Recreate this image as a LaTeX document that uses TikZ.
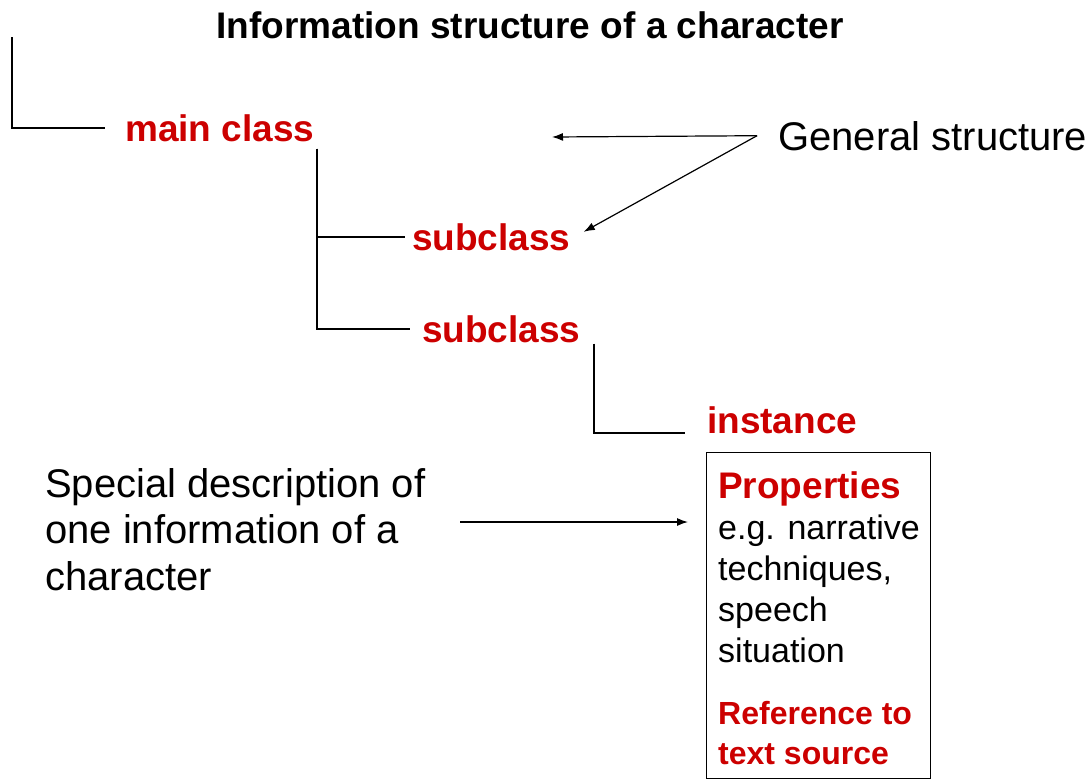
\documentclass[tikz,border=0pt]{standalone}
\usepackage{fontspec}
\setmainfont{Liberation Sans}
\usetikzlibrary{arrows.meta}
\definecolor{classred}{RGB}{204,0,0}

\begin{document}
\begin{tikzpicture}[x=1pt,y=-1pt,
    every node/.style={inner sep=0pt},
    cls/.style={anchor=base west,text=classred,font=\fontsize{37}{44}\selectfont\bfseries},
    txt/.style={anchor=base west,align=left,font=\fontsize{40}{46.5}\selectfont},
    arr/.style={-{Latex[length=11pt,width=8pt]},line width=1.2pt},
    tree/.style={line width=2.2pt}]
      \useasboundingbox (0,0) rectangle (1092,780);
      \node[anchor=base,font=\fontsize{37}{44}\selectfont\bfseries] (title) at (530,38) {Information structure of a character};
      \node[cls] (main) at (125,141) {main class};
      \node[cls] (sub1) at (412,250) {subclass};
      \node[cls] (sub2) at (422,342) {subclass};
      \node[cls] (inst) at (707,433) {instance};
      \node[txt] (gen) at (778,150) {General structure};
      \node[txt] (spec) at (45,590) {Special description of\\one information of a\\character};
      \node[draw,line width=1.3pt,minimum width=224pt,minimum height=326pt,anchor=north west] (box) at (706,452) {};
      \node[cls] (prop) at (718,498) {Properties};
      \node[anchor=base west,align=left,font=\fontsize{34}{41}\selectfont] (eg) at (718,662) {e.g. narrative\\techniques,\\speech\\situation};
      \node[cls,align=left,font=\fontsize{32}{40}\selectfont\bfseries] (ref) at (718,764) {Reference to\\text source};
      \coordinate (corner) at (12,37);
      \draw[tree] (corner) |- ([xshift=-20pt]main.west);
      \draw[tree] ([shift={(2,7)}]main.south east) |- ([xshift=-7pt]sub1.west);
      \draw[tree] ([shift={(2,7)}]main.south east) |- ([xshift=-12pt]sub2.west);
      \draw[tree] ([shift={(13,1)}]sub2.south east) |- ([xshift=-22pt]inst.base west);
      \coordinate (gs) at (552,137);
      \draw[arr] ([xshift=-21pt]gen.west) -- (gs);
      \draw[arr] ([xshift=-21pt]gen.west) -- ([shift={(13,-5)}]sub1.east);
      \coordinate (sd) at (460,522);
      \draw[arr,shorten >=18pt] (sd) -- (sd -| box.west);
    \end{tikzpicture}
\end{document}
